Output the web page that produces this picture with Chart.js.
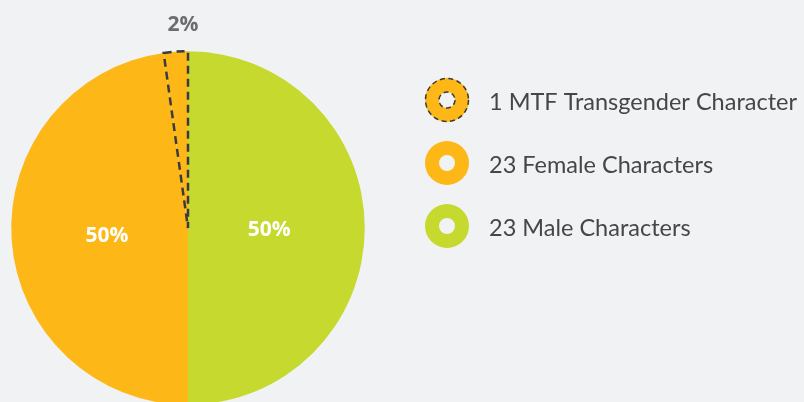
<!DOCTYPE html>
<html>
<head>
<meta charset="utf-8">
<script src="https://cdn.jsdelivr.net/npm/chart.js@4"></script>
<style>
  html, body { margin: 0; padding: 0; width: 804px; height: 402px; overflow: hidden; background: #f1f2f4; }
  #wrap { position: relative; width: 804px; height: 410px; }
</style>
</head>
<body>
<div id="wrap"><canvas id="pieChart"></canvas></div>
<script>
// slice shares (clockwise from top)
const categories = ['23 Male Characters', '23 Female Characters', '1 MTF Transgender Character'];
const shares = [50, 47.8, 2.2];
const shareLabels = ['50%', '50%', '2%'];
const sliceColors = ['#c5d92e', '#fdb817', '#fdb817'];
// legend is listed top to bottom in this order (indexes into categories)
const legendOrder = [2, 1, 0];

const TEXT = '#46454a';
const DASH = '#3b3b3d';

const isMtf = i => i === 2;

const sliceLabels = {
  id: 'sliceLabels',
  afterDatasetsDraw(chart) {
    const { ctx } = chart;
    const meta = chart.getDatasetMeta(0);
    ctx.save();
    ctx.textAlign = 'center';
    ctx.textBaseline = 'middle';
    meta.data.forEach((arc, i) => {
      const p = arc.getProps(['x', 'y', 'startAngle', 'endAngle', 'outerRadius'], true);
      const mid = (p.startAngle + p.endAngle) / 2;
      if (isMtf(i)) {
        const r = p.outerRadius + 27;
        ctx.fillStyle = '#6d6d70';
        ctx.font = 'bold 21px "Open Sans"';
        ctx.fillText(shareLabels[i], p.x + Math.cos(mid) * r + 9, p.y + Math.sin(mid) * r);
      } else {
        const r = p.outerRadius * 0.46;
        ctx.fillStyle = '#ffffff';
        ctx.font = 'bold 21px "Open Sans"';
        ctx.fillText(shareLabels[i], p.x + Math.cos(mid) * r, p.y + Math.sin(mid) * r + 2);
      }
    });
    ctx.restore();
  }
};

const ringLegend = {
  id: 'ringLegend',
  afterDraw(chart) {
    const { ctx } = chart;
    const x = 447, y0 = 100, step = 63;
    ctx.save();
    legendOrder.forEach((idx, row) => {
      const y = y0 + row * step;
      ctx.beginPath();
      ctx.arc(x, y, 22, 0, Math.PI * 2);
      ctx.arc(x, y, 8, 0, Math.PI * 2, true);
      ctx.fillStyle = sliceColors[idx];
      ctx.fill();
      if (isMtf(idx)) {
        ctx.setLineDash([5, 3.5]);
        ctx.lineWidth = 1.5;
        ctx.strokeStyle = DASH;
        ctx.beginPath();
        ctx.arc(x, y, 21.5, 0, Math.PI * 2);
        ctx.stroke();
        ctx.beginPath();
        ctx.arc(x, y, 8, 0, Math.PI * 2);
        ctx.stroke();
        ctx.setLineDash([]);
      }
      ctx.fillStyle = TEXT;
      ctx.font = '23.5px Lato';
      ctx.textAlign = 'left';
      ctx.textBaseline = 'middle';
      ctx.fillText(categories[idx], 489, y + 2);
    });
    ctx.restore();
  }
};

new Chart(document.getElementById('pieChart'), {
  type: 'pie',
  data: {
    labels: categories,
    datasets: [{
      data: shares,
      backgroundColor: sliceColors,
      borderColor: ctx => isMtf(ctx.dataIndex) ? DASH : 'rgba(0,0,0,0)',
      borderWidth: ctx => isMtf(ctx.dataIndex) ? 2.5 : 0,
      borderDash: ctx => isMtf(ctx.dataIndex) ? [8, 5] : [],
      borderJoinStyle: 'miter'
    }]
  },
  options: {
    responsive: true,
    maintainAspectRatio: false,
    animation: false,
    layout: { padding: { left: 10, top: 50, right: 438, bottom: 4 } },
    plugins: {
      legend: { display: false },
      tooltip: { enabled: false }
    }
  },
  plugins: [sliceLabels, ringLegend]
});
</script>
</body>
</html>
